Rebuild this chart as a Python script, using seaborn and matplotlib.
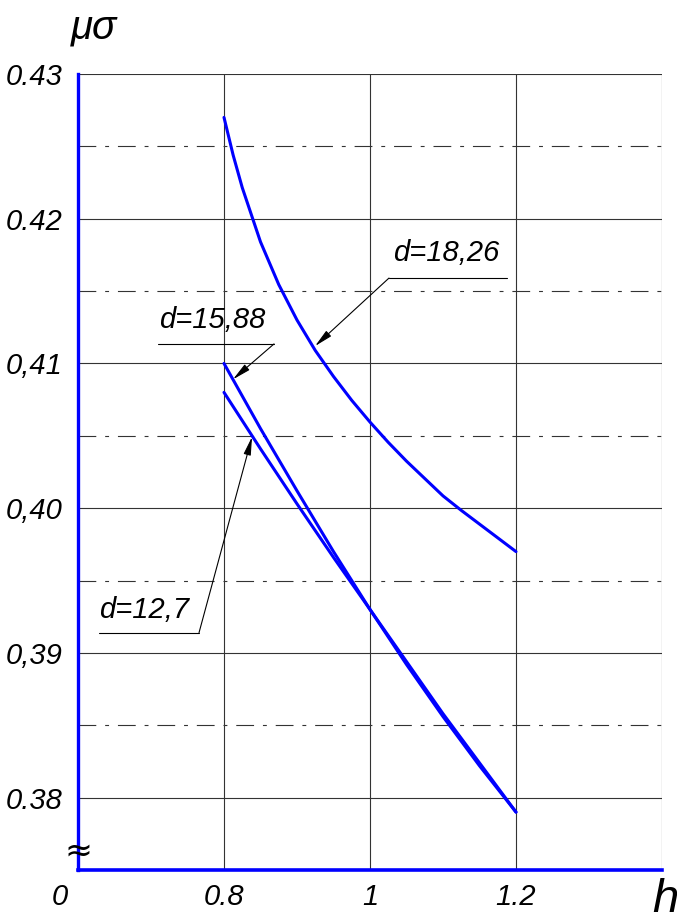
import matplotlib
matplotlib.use("Agg")
import matplotlib.pyplot as plt
import matplotlib.transforms as mtransforms
from matplotlib import font_manager
import seaborn as sns
import pandas as pd

# curve readings: mu_sigma versus h for three diameters d
h_d1826 = [0.800, 0.8125, 0.825, 0.850, 0.875, 0.900, 0.925, 0.950, 0.975, 1.000,
           1.025, 1.050, 1.075, 1.100, 1.125, 1.150, 1.175, 1.200]
mu_d1826 = [0.4270, 0.4244, 0.42215, 0.4184, 0.41545, 0.4130, 0.4109, 0.4091, 0.40745, 0.40595,
            0.40455, 0.40325, 0.40205, 0.40085, 0.39985, 0.39890, 0.39795, 0.3970]

h_d1588 = [0.80, 0.85, 0.90, 0.95, 1.00, 1.05, 1.10, 1.15, 1.20]
mu_d1588 = [0.4100, 0.4055, 0.4012, 0.3970, 0.3930, 0.3892, 0.3856, 0.3822, 0.3790]

h_d127 = [0.80, 0.85, 0.90, 0.95, 1.00, 1.05, 1.10, 1.15, 1.20]
mu_d127 = [0.4080, 0.4041, 0.4003, 0.3966, 0.3930, 0.3894, 0.3858, 0.3824, 0.3790]

series_names = ["d=18,26", "d=15,88", "d=12,7"]

x_ticks = [0.6, 0.8, 1.0, 1.2]
x_tick_labels = ["0", "0.8", "1", "1.2"]
y_ticks = [0.38, 0.39, 0.40, 0.41, 0.42, 0.43]
y_tick_labels = ["0.38", "0,39", "0,40", "0,41", "0.42", "0.43"]
y_half_ticks = [0.385, 0.395, 0.405, 0.415, 0.425]

df = pd.concat([
    pd.DataFrame({"h": h_d1826, "mu": mu_d1826, "d": series_names[0]}),
    pd.DataFrame({"h": h_d1588, "mu": mu_d1588, "d": series_names[1]}),
    pd.DataFrame({"h": h_d127, "mu": mu_d127, "d": series_names[2]}),
], ignore_index=True)

sns.set_theme(style="white")
names = {f.name for f in font_manager.fontManager.ttflist}
fam = [n for n in ["Liberation Sans Narrow", "Liberation Sans", "DejaVu Sans"] if n in names]
plt.rcParams["font.family"] = fam
plt.rcParams["font.style"] = "italic"
plt.rcParams["text.color"] = "black"
plt.rcParams["xtick.color"] = "black"
plt.rcParams["ytick.color"] = "black"

BLUE = "#0000ff"
GRID = "#333333"

fig = plt.figure(figsize=(6.77, 9.21), dpi=100)
ax = fig.add_axes([78 / 677, 51 / 921, (662 - 78) / 677, (870 - 74) / 921])
ax.set_xlim(0.6, 1.4)
ax.set_ylim(0.375, 0.43)

# grid: solid lines at labelled values, dash-dot at half steps
for y in y_ticks:
    ax.axhline(y, color=GRID, lw=0.8, zorder=1)
for y in y_half_ticks:
    ax.axhline(y, color=GRID, lw=0.8, dashes=(16, 8, 3.5, 8), zorder=1)
for x in [0.8, 1.0, 1.2, 1.4]:
    ax.axvline(x, color=GRID, lw=0.8, zorder=1)

sns.lineplot(data=df, x="h", y="mu", hue="d", palette=[BLUE] * 3, lw=2.2,
             legend=False, sort=False, estimator=None, ax=ax, zorder=3)

for side in ["top", "right"]:
    ax.spines[side].set_visible(False)
ax.spines["left"].set_color(BLUE)
ax.spines["left"].set_linewidth(2.4)
ax.spines["bottom"].set_color(BLUE)
ax.spines["bottom"].set_linewidth(2.6)
ax.spines["left"].set_zorder(4)
ax.spines["bottom"].set_zorder(4)

ax.set_xticks(x_ticks)
ax.set_xticklabels(x_tick_labels, fontsize=21, fontstyle="italic")
ax.set_yticks(y_ticks)
ax.set_yticklabels(y_tick_labels, fontsize=21, fontstyle="italic")
ax.tick_params(axis="x", length=0, pad=9)
ax.tick_params(axis="y", length=0, pad=11)
ax.set_xlabel("")
ax.set_ylabel("")
# shift the origin label a little left of the axis corner
lbl0 = ax.get_xticklabels()[0]
lbl0.set_transform(lbl0.get_transform() + mtransforms.ScaledTranslation(-0.18, 0, fig.dpi_scale_trans))

# axis names
fig.text(94 / 677, 1 - 27 / 921, "μσ", fontsize=29, fontstyle="italic", ha="center", va="center")
fig.text(665 / 677, 1 - 900 / 921, "h", fontsize=34, fontstyle="italic", ha="center", va="center")

# axis break sign on the vertical axis
ax.text(0.6, 0.3763, "≈", fontsize=24, ha="center", va="center", fontstyle="normal",
        fontweight="normal", family=["DejaVu Sans"], zorder=5)

# leader labels
arrow_kw = dict(arrowstyle="-|>,head_length=1.1,head_width=0.22", lw=0.8, color="black",
                shrinkA=0, shrinkB=0, mutation_scale=10)
labels = [
    # text, text centre, underline x-range, underline y, arrow tip, elbow x
    (series_names[0], (1.104, 0.41764), (1.026, 1.188), 0.4159, (0.9247, 0.4112), 1.026),
    (series_names[1], (0.7836, 0.41301), (0.7096, 0.8685), 0.41135, (0.8123, 0.4089), 0.8685),
    (series_names[2], (0.6904, 0.39298), (0.6288, 0.7658), 0.3914, (0.8384, 0.40493), 0.7658),
]
for text, tpos, (ux0, ux1), uy, tip, ex in labels:
    ax.text(tpos[0], tpos[1], text, fontsize=21, fontstyle="italic", ha="center", va="center", zorder=5)
    ax.plot([ux0, ux1], [uy, uy], color="black", lw=0.8, zorder=5)
    ax.annotate("", xy=tip, xytext=(ex, uy), arrowprops=arrow_kw, zorder=5)

fig.savefig("out.png", dpi=100)
